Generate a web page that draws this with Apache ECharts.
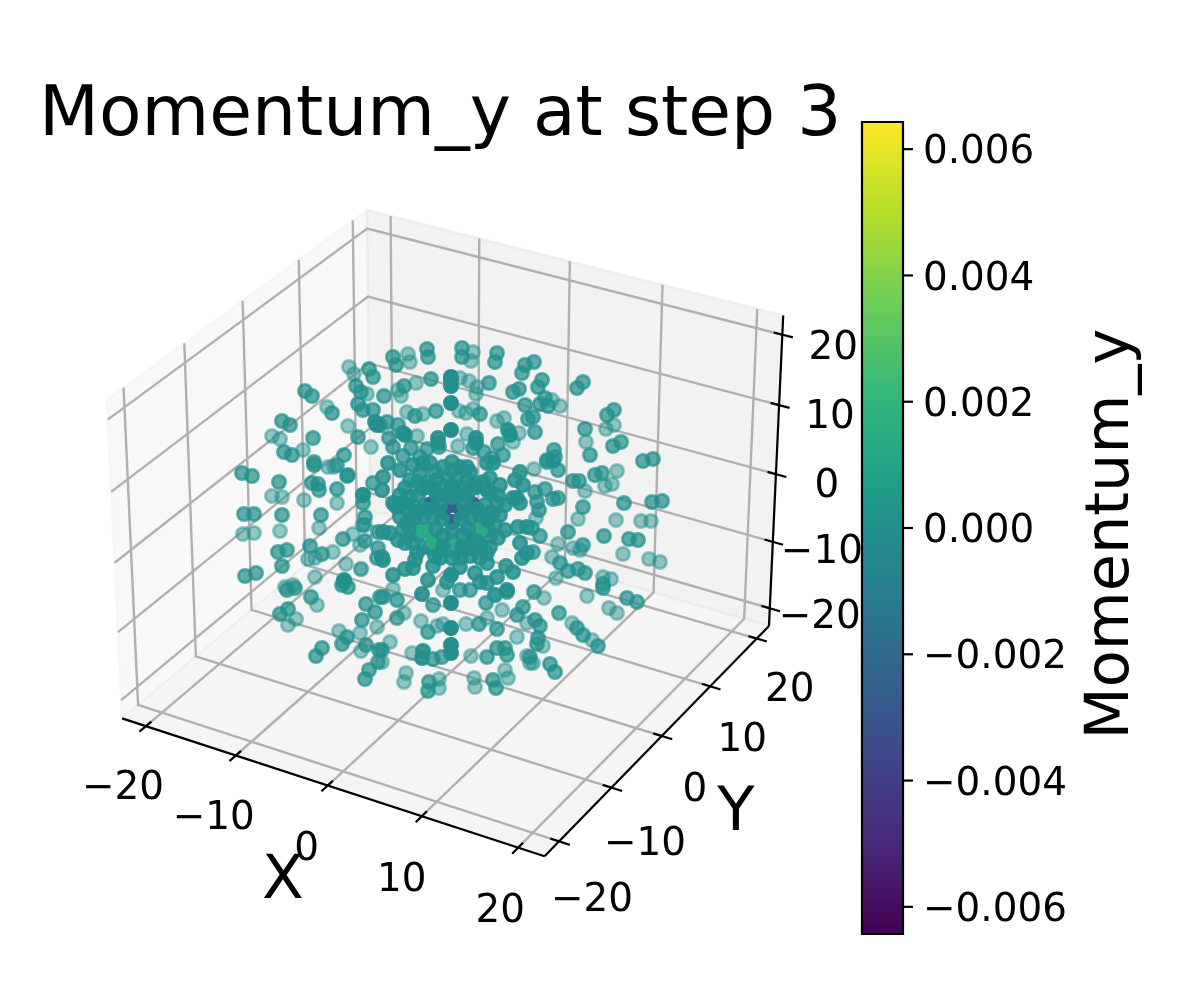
<!DOCTYPE html>
<html><head><meta charset="utf-8">
<script src="https://cdn.jsdelivr.net/npm/echarts@6/dist/echarts.min.js"></script>
<style>html,body{margin:0;padding:0;background:#fff}#c{width:1200px;height:1000px}</style>
</head><body><div id="c"></div>
<script>
// ---- values ----
const titleText = 'Momentum_y at step 3';
const colorbarName = 'Momentum_y';
const axisTicks = [-20, -10, 0, 10, 20];
const colorbarTicks = [-0.006, -0.004, -0.002, 0, 0.002, 0.004, 0.006];
const viridis = ['#440154','#482878','#3e4989','#31688e','#26828e','#1f9e89','#35b779','#6ece58','#b5de2b','#fde725'];
const colorMax = 0.00643, axisLimit = 22.7;
// Particles, as positions on the view plane, grouped by depth (far to near)
const farPoints = [[349,367],[354,374],[327,407],[348,426],[272,436],[280,439],[303,450],[371,447],[408,354],[410,362],[416,383],[398,390],[401,396],[407,412],[423,414],[417,436],[469,381],[477,387],[476,394],[473,352],[471,361],[460,378],[459,411],[466,413],[473,409],[497,421],[504,418],[519,433],[467,434],[458,446],[513,442],[552,400],[560,406],[614,425],[606,429],[586,442],[367,394],[272,496],[282,497],[304,500],[337,503],[328,467],[334,467],[243,534],[254,533],[280,531],[319,528],[308,559],[315,558],[333,552],[346,564],[315,577],[353,534],[360,545],[365,525],[285,587],[293,585],[296,619],[288,625],[317,605],[360,633],[361,651],[377,627],[339,631],[534,469],[617,471],[605,486],[612,484],[585,491],[578,519],[616,520],[641,521],[651,521],[558,544],[573,548],[580,550],[623,554],[649,559],[660,562],[552,557],[536,518],[556,578],[603,577],[611,579],[587,596],[609,608],[617,613],[544,598],[572,623],[592,640],[543,646],[533,663],[412,653],[421,621],[437,626],[443,624],[466,624],[487,618],[517,637],[390,642],[471,656],[505,670],[508,678],[406,673],[404,682],[439,679],[439,688],[474,678],[475,687],[382,662],[527,623],[527,656],[530,663],[502,610],[404,613],[443,590],[393,589]];
const midPoints = [[369,369],[373,377],[356,386],[361,392],[305,391],[312,396],[332,413],[358,404],[363,410],[373,410],[282,421],[290,425],[313,438],[358,437],[284,452],[292,455],[344,455],[314,462],[393,357],[396,365],[427,349],[428,357],[462,348],[462,357],[497,353],[495,362],[525,365],[522,373],[431,379],[404,386],[384,396],[489,383],[513,392],[519,389],[525,405],[415,416],[436,411],[480,414],[528,419],[387,422],[398,425],[380,425],[389,438],[393,447],[439,447],[498,444],[473,448],[427,449],[411,448],[503,455],[484,452],[403,456],[420,457],[492,458],[534,362],[542,380],[538,387],[583,382],[577,388],[545,398],[540,404],[548,406],[614,410],[607,415],[533,417],[585,429],[621,442],[613,446],[535,432],[554,450],[590,455],[555,457],[547,460],[643,461],[653,459],[242,473],[252,476],[279,482],[312,483],[318,484],[319,490],[337,489],[314,465],[337,465],[347,476],[348,475],[244,514],[254,514],[282,515],[321,515],[363,495],[363,503],[365,517],[363,525],[373,483],[343,539],[365,541],[378,532],[278,552],[287,550],[310,546],[282,566],[322,554],[361,569],[245,576],[256,573],[378,548],[377,558],[547,462],[553,461],[558,470],[573,481],[579,481],[595,475],[602,473],[545,489],[535,492],[553,499],[558,498],[537,502],[539,510],[583,507],[624,503],[652,502],[662,501],[568,532],[604,536],[629,539],[638,540],[540,536],[532,528],[583,545],[533,552],[560,563],[568,571],[578,569],[585,573],[603,584],[534,592],[603,588],[627,598],[637,602],[559,613],[577,628],[583,635],[598,646],[535,620],[540,626],[538,638],[537,644],[530,657],[550,664],[555,672],[397,600],[397,618],[433,605],[460,590],[470,590],[486,603],[507,592],[523,607],[517,615],[428,632],[479,624],[497,629],[383,597],[382,650],[433,659],[442,657],[487,657],[497,648],[505,648],[507,655],[429,682],[428,691],[493,680],[496,688],[287,590],[295,588],[311,597],[280,614],[288,609],[347,637],[342,644],[322,648],[316,656],[366,604],[375,612],[362,620],[366,645],[379,650],[378,662],[369,670],[365,679],[380,597],[342,585],[348,587]];
const nearPoints = [[375,422],[377,425],[403,433],[438,438],[508,430],[476,438],[344,580],[344,582],[422,594],[422,658],[423,651],[495,595],[507,590],[363,495],[405,435],[510,435],[438,443],[476,443]];
const stackedPoints = [[451,377],[451,380],[451,386],[451,403],[451,430],[451,603],[451,628],[451,645],[451,653],[451,575]];
// Core of the cloud: the shell, the few particles with visible momentum, then what lies in front of them
const coreBack = [[423,463],[430,463],[413,465],[460,467],[467,467],[443,467],[452,462],[487,463],[493,463],[400,470],[388,463],[383,477],[382,490],[395,505],[390,533],[383,532],[382,557],[383,560],[433,566],[460,567],[393,575],[405,569],[413,568],[428,580],[447,582],[475,573],[487,563],[480,582],[497,577],[506,566],[513,572],[487,583],[518,527],[527,527],[520,543],[527,553],[522,558],[517,498],[520,503],[513,498],[520,472],[523,485],[515,480],[420,473],[410,480],[415,512],[418,535],[413,505],[490,478],[500,485],[495,525],[487,520],[425,505],[415,560],[440,558],[460,558],[480,558],[410,497],[403,503],[397,507],[393,503],[400,517],[407,523],[410,530],[405,543],[417,553],[490,493],[497,503],[487,490],[493,513],[483,527],[490,537],[480,547],[487,553],[427,483],[437,480],[447,478],[457,478],[467,480],[475,483],[423,488],[433,488],[443,487],[453,487],[463,488],[473,488],[430,548],[440,550],[450,550],[460,550],[470,548],[423,547],[477,545],[440,495],[462,495],[418,495],[485,505],[412,520],[488,530],[425,530],[478,530],[418,482],[483,482],[405,488],[498,495],[408,510],[500,515],[403,530],[498,538],[413,543],[490,547],[435,472],[470,472],[452,470],[400,495],[505,505],[398,540],[505,530],[435,556],[452,558],[470,556]];
const coreNegative = [[432,504],[472,504],[452,505],[452,522],[443,512],[462,512]];
const corePositive = [[424,530],[433,541],[452,542],[473,538],[480,530]];
const coreNegativeValue = -0.0025, corePositiveValue = 0.0015;
const coreFront = [[437,496],[447,494],[457,494],[467,496],[423,517],[433,518],[442,519],[461,519],[470,518],[480,515],[490,513],[443,536],[463,535],[428,487],[452,486],[476,487],[415,518],[488,520],[440,506],[464,506],[452,497],[427,509],[477,509],[436,529],[468,529],[452,531],[476,541],[443,547],[462,547]];
// Offsets of the tick labels from their ticks
const xLabelOffset = [[-23,63],[-22,63.5],[-21,64.5],[-20,64.7],[-18,64]];
const yLabelOffset = [[33,59.6],[33.5,57],[33,55],[32,55],[33,52]];
const zLabelOffset = [[50,10],[49,11],[51,13],[51,13],[51,14]];
const fontFamily = 'DejaVu Sans';

// ---- the camera of the 3D box, which places box parts on the view plane ----
function project(x, y, z) {
  const hb = 0.5953, hc = 0.4464;
  const dx = x / axisLimit * hb, dy = y / axisLimit * hb, dz = z / axisLimit * hc;
  const xv = 0.8660 * dx + 0.5 * dy;
  const yv = -0.25 * dx + 0.4330 * dy + 0.8660 * dz;
  const d = 10 - (0.4330 * dx - 0.75 * dy + 0.5 * dz);
  return [451.5 + 4065 * xv / d, 517.6 - 4065 * yv / d];
}
const L = axisLimit;
const panes = [
  {fill: 'rgba(242,242,242,0.5)', pts: [[-L,-L,-L],[-L,L,-L],[-L,L,L],[-L,-L,L]]},
  {fill: 'rgba(230,230,230,0.5)', pts: [[-L,L,-L],[L,L,-L],[L,L,L],[-L,L,L]]},
  {fill: 'rgba(236,236,236,0.5)', pts: [[-L,-L,-L],[L,-L,-L],[L,L,-L],[-L,L,-L]]}
];
const lines = [];
axisTicks.forEach(t => {
  lines.push({c: '#b0b0b0', w: 2.4, pts: [[t,-L,-L],[t,L,-L],[t,L,L]]});
  lines.push({c: '#b0b0b0', w: 2.4, pts: [[L,t,-L],[-L,t,-L],[-L,t,L]]});
  lines.push({c: '#b0b0b0', w: 2.4, pts: [[-L,-L,t],[-L,L,t],[L,L,t]]});
});
lines.push({c: '#000', w: 2.2, pts: [[-L,-L,-L],[L,-L,-L]]});
lines.push({c: '#000', w: 2.2, pts: [[L,-L,-L],[L,L,-L]]});
lines.push({c: '#000', w: 2.2, pts: [[L,L,-L],[L,L,L]]});
const tIn = 0.9, tOut = 1.1;
axisTicks.forEach(t => {
  lines.push({c: '#000', w: 2.2, pts: [[t,-L+tIn,-L],[t,-L-tOut,-L]]});
  lines.push({c: '#000', w: 2.2, pts: [[L-tIn,t,-L],[L+tOut,t,-L]]});
  lines.push({c: '#000', w: 2.2, pts: [[L-tIn,L,t],[L+tOut,L,t]]});
});

function lerpViridis(v) {
  const f = Math.max(0, Math.min(1, (v + colorMax) / (2 * colorMax))) * (viridis.length - 1);
  const i = Math.min(viridis.length - 2, Math.floor(f)), k = f - i;
  const rgb = h => [1,3,5].map(p => parseInt(h.substr(p,2),16));
  const a = rgb(viridis[i]), b = rgb(viridis[i+1]);
  return 'rgb(' + a.map((c,j) => Math.round(c + (b[j]-c)*k)).join(',') + ')';
}
const items = (list, value, opacity) => list.map(p => [p[0], p[1], value, opacity]);
const allPoints = [].concat(
  items(farPoints, 0, 0.48),
  items(midPoints, 0, 0.72),
  items(coreBack, 0, 0.85),
  items(coreNegative, coreNegativeValue, 1),
  items(corePositive, corePositiveValue, 1),
  items(coreFront, 0, 0.9),
  items(nearPoints, 0, 0.9),
  items(stackedPoints, 0, 1)
);

const textLabels = [];
const addLabel = (x, y, text, size, rotation) => textLabels.push({x, y, text, size, rotation: rotation || 0});
const minus = t => String(t).replace('-', '\u2212');
axisTicks.forEach((t, i) => {
  const px = project(t, -L, -L), py = project(L, t, -L), pz = project(L, L, t);
  addLabel(px[0] + xLabelOffset[i][0], px[1] + xLabelOffset[i][1], minus(t), 38.9);
  addLabel(py[0] + yLabelOffset[i][0], py[1] + yLabelOffset[i][1], minus(t), 38.9);
  addLabel(pz[0] + zLabelOffset[i][0], pz[1] + zLabelOffset[i][1], minus(t), 38.9);
});
addLabel(283, 882, 'X', 61);
addLabel(736, 814, 'Y', 61);
addLabel(887, 453, 'Z', 56, Math.PI / 2);

const chart = echarts.init(document.getElementById('c'), null, {renderer: 'canvas'});
chart.setOption({
  animation: false,
  backgroundColor: '#fff',
  title: {text: titleText, left: 39, top: 82, padding: 0,
    textStyle: {fontFamily, fontSize: 69.5, fontWeight: 'normal', color: '#000'}},
  grid: [
    {left: 0, top: 0, width: 1200, height: 1000, show: false},
    {left: 862, top: 122, width: 41, height: 812, show: true, z: 10, borderColor: '#000', borderWidth: 2.2, backgroundColor: 'transparent'}
  ],
  xAxis: [
    {gridIndex: 0, type: 'value', min: 0, max: 1200, show: false},
    {gridIndex: 1, type: 'value', min: 0, max: 1, show: false}
  ],
  yAxis: [
    {gridIndex: 0, type: 'value', min: 0, max: 1000, inverse: true, show: false},
    {gridIndex: 1, type: 'value', min: -colorMax, max: colorMax, position: 'right', z: 10,
      name: colorbarName, nameLocation: 'middle', nameRotate: 90, nameGap: 179,
      nameTextStyle: {fontFamily, fontSize: 60.5, color: '#000', padding: [0, 12, 0, 0]},
      axisLine: {show: false}, splitLine: {show: false}, axisTick: {show: false}, axisLabel: {show: false}}
  ],
  visualMap: {type: 'continuous', min: -colorMax, max: colorMax, seriesIndex: 4, left: 862, top: 122,
    itemWidth: 41, itemHeight: 812, padding: 0, calculable: false, text: null, showLabel: false, hoverLink: false,
    inRange: {color: viridis}},
  series: [
    {type: 'custom', coordinateSystem: 'cartesian2d', xAxisIndex: 0, yAxisIndex: 0, silent: true, clip: false, z: 1, data: panes.map((p, i) => i),
      renderItem: (params, api) => {
        const p = panes[params.dataIndex];
        return {type: 'polygon', shape: {points: p.pts.map(q => api.coord(project(q[0], q[1], q[2])))},
          style: {fill: p.fill, stroke: p.fill, lineWidth: 2.5}};
      }},
    {type: 'custom', coordinateSystem: 'cartesian2d', xAxisIndex: 0, yAxisIndex: 0, silent: true, clip: false, z: 2, data: lines.map((p, i) => i),
      renderItem: (params, api) => {
        const l = lines[params.dataIndex];
        return {type: 'polyline', shape: {points: l.pts.map(q => api.coord(project(q[0], q[1], q[2])))},
          style: {fill: 'none', stroke: l.c, lineWidth: l.w}};
      }},
    {type: 'custom', coordinateSystem: 'cartesian2d', xAxisIndex: 0, yAxisIndex: 0, silent: true, clip: false, z: 3, data: allPoints,
      encode: {x: 0, y: 1},
      renderItem: (params, api) => {
        const p = api.coord([api.value(0), api.value(1)]);
        const c = lerpViridis(api.value(2));
        return {type: 'circle', shape: {cx: p[0], cy: p[1], r: 6.6},
          style: {fill: c, stroke: c, lineWidth: 2.8, opacity: api.value(3)}};
      }},
    {type: 'custom', coordinateSystem: 'cartesian2d', xAxisIndex: 0, yAxisIndex: 0, silent: true, clip: false, z: 3, data: textLabels.map((t, i) => i),
      renderItem: (params, api) => {
        const t = textLabels[params.dataIndex];
        const p = api.coord([t.x, t.y]);
        return {type: 'text', x: p[0], y: p[1], rotation: t.rotation,
          style: {text: t.text, fill: '#000', font: t.size + 'px "DejaVu Sans"', align: 'center', verticalAlign: 'middle'}};
      }},
    {type: 'scatter', xAxisIndex: 1, yAxisIndex: 1, data: []},
    {type: 'custom', coordinateSystem: 'cartesian2d', xAxisIndex: 1, yAxisIndex: 1, silent: true, clip: false, z: 12, data: colorbarTicks.map(v => [1, v]),
      encode: {x: 0, y: 1},
      renderItem: (params, api) => {
        const v = api.value(1);
        const p = api.coord([1, v]);
        return {type: 'group', children: [
          {type: 'line', shape: {x1: p[0], y1: p[1], x2: p[0] + 10, y2: p[1]}, style: {stroke: '#000', lineWidth: 2.2}},
          {type: 'text', x: p[0] + 20, y: p[1] + 4, style: {text: minus(v.toFixed(3)), fill: '#000', font: '38.9px "DejaVu Sans"', align: 'left', verticalAlign: 'middle'}}
        ]};
      }}
  ]
});
</script></body></html>
